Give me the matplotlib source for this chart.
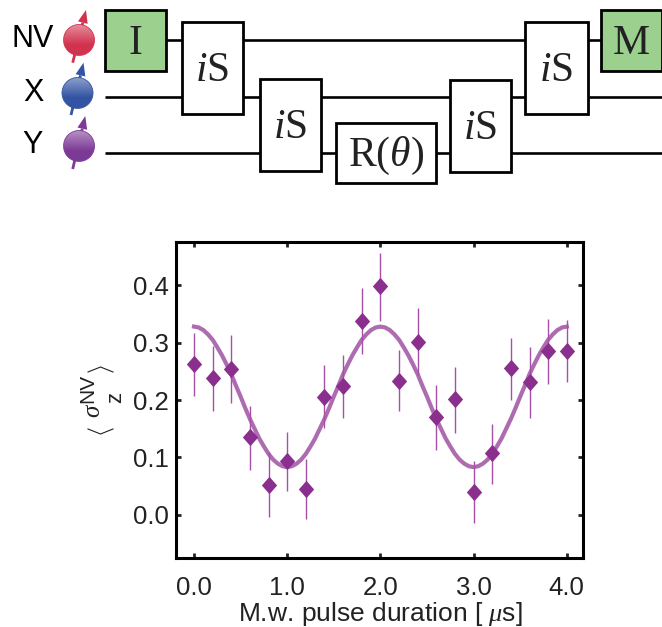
import numpy as np
import matplotlib
matplotlib.use("Agg")
import matplotlib.pyplot as plt
from matplotlib.patches import Rectangle, Circle, Polygon

plt.rcParams['font.family'] = ['Liberation Sans', 'DejaVu Sans']
plt.rcParams['mathtext.fontset'] = 'custom'
plt.rcParams['mathtext.rm'] = 'Liberation Sans'
plt.rcParams['mathtext.it'] = 'Liberation Serif:italic'
plt.rcParams['mathtext.fallback'] = 'stix'

# measured points
pulse = [0.0, 0.2, 0.4, 0.6, 0.8, 1.0, 1.2, 1.4, 1.6, 1.8, 2.0,
         2.2, 2.4, 2.6, 2.8, 3.0, 3.2, 3.4, 3.6, 3.8, 4.0]
sigma = [0.262, 0.238, 0.254, 0.135, 0.052, 0.094, 0.045, 0.206, 0.224, 0.337, 0.398,
         0.234, 0.302, 0.170, 0.201, 0.040, 0.107, 0.255, 0.231, 0.285, 0.285]
err_top = [0.316, 0.294, 0.313, 0.190, 0.110, 0.145, 0.097, 0.261, 0.278, 0.395, 0.457,
           0.287, 0.360, 0.227, 0.258, 0.094, 0.159, 0.308, 0.293, 0.341, 0.339]
err_bottom = [0.207, 0.181, 0.195, 0.078, -0.004, 0.042, -0.008, 0.152, 0.169, 0.280, 0.337,
              0.181, 0.244, 0.112, 0.143, -0.014, 0.054, 0.200, 0.169, 0.228, 0.232]

# fit curve, every 0.05 us
fit_x = [0.0, 0.05, 0.1, 0.15, 0.2, 0.25, 0.3, 0.35, 0.4, 0.45, 0.5, 0.55, 0.6, 0.65, 0.7, 0.75, 0.8, 0.85, 0.9, 0.95,
         1.0, 1.05, 1.1, 1.15, 1.2, 1.25, 1.3, 1.35, 1.4, 1.45, 1.5, 1.55, 1.6, 1.65, 1.7, 1.75, 1.8, 1.85, 1.9, 1.95,
         2.0, 2.05, 2.1, 2.15, 2.2, 2.25, 2.3, 2.35, 2.4, 2.45, 2.5, 2.55, 2.6, 2.65, 2.7, 2.75, 2.8, 2.85, 2.9, 2.95,
         3.0, 3.05, 3.1, 3.15, 3.2, 3.25, 3.3, 3.35, 3.4, 3.45, 3.5, 3.55, 3.6, 3.65, 3.7, 3.75, 3.8, 3.85, 3.9, 3.95, 4.0]
fit_y = [0.328, 0.3265, 0.322, 0.3145, 0.305, 0.292, 0.278, 0.262, 0.245, 0.225, 0.206, 0.186, 0.167, 0.150, 0.133, 0.119, 0.106, 0.096, 0.089, 0.0845,
         0.083, 0.0845, 0.089, 0.096, 0.106, 0.119, 0.133, 0.150, 0.167, 0.186, 0.206, 0.225, 0.245, 0.262, 0.278, 0.292, 0.305, 0.3145, 0.322, 0.3265,
         0.328, 0.3265, 0.322, 0.3145, 0.305, 0.292, 0.278, 0.262, 0.245, 0.225, 0.206, 0.186, 0.167, 0.150, 0.133, 0.119, 0.106, 0.096, 0.089, 0.0845,
         0.083, 0.0845, 0.089, 0.096, 0.106, 0.119, 0.133, 0.150, 0.167, 0.186, 0.206, 0.225, 0.245, 0.262, 0.278, 0.292, 0.305, 0.3145, 0.322, 0.3265, 0.328]

x_ticks = [0, 1, 2, 3, 4]
x_labels = ['0.0', '1.0', '2.0', '3.0', '4.0']
y_ticks = [0.0, 0.1, 0.2, 0.3, 0.4]
y_labels = ['0.0', '0.1', '0.2', '0.3', '0.4']

W, H = 662, 627
fig = plt.figure(figsize=(W / 100, H / 100), dpi=100)

# the plot
ax = fig.add_axes([176 / W, 1 - 558 / H, (583 - 176) / W, (558 - 242) / H])
ax.plot(fit_x, fit_y, color='#ae6cb0', lw=3.0, zorder=2)
low = np.array(sigma) - np.array(err_bottom)
high = np.array(err_top) - np.array(sigma)
ax.errorbar(pulse, sigma, yerr=[low, high], fmt='none', ecolor='#a650a8', elinewidth=1.0, zorder=3)
diamond = [(-0.88, 0), (0, 1), (0.88, 0), (0, -1)]
ax.plot(pulse, sigma, ls='none', marker=diamond, color='#8a2f8e', ms=12.5, mew=0, zorder=4)
ax.set_xlim(-0.193, 4.174)
ax.set_ylim(-0.0755, 0.4755)
ax.set_xticks(x_ticks, x_labels)
ax.set_yticks(y_ticks, y_labels)
ax.tick_params(direction='in', top=True, right=True, length=3.5, width=2.0, labelsize=18.5, colors='#222222')
ax.tick_params(axis='x', pad=13)
ax.tick_params(axis='y', pad=5)
for s in ax.spines.values():
    s.set_linewidth(2.2)
    s.set_color('black')
fig.text(380 / W, 1 - 614 / H, r'M.w. pulse duration [ $\mu$s]', fontsize=19, ha='center', va='center', color='#222222')

# circuit diagram on top, in pixel coordinates
c = fig.add_axes([0, 0, 1, 1], zorder=5)
c.set_xlim(0, W)
c.set_ylim(H, 0)
c.axis('off')
c.patch.set_alpha(0)

# y label built from pieces, the sub and superscript are big and far apart
c.text(92.5, 410, r'$\sigma$', fontsize=18, rotation=90, ha='center', va='center', color='#222222')
c.text(116, 397.5, 'z', fontsize=16, rotation=90, ha='center', va='center', color='#222222')
c.text(87.5, 388.5, 'NV', fontsize=15, rotation=90, ha='center', va='center', color='#222222')
for tip_y, end_y in [(434, 429), (367, 372)]:
    c.plot([88, 100.5, 113], [end_y, tip_y, end_y], color='#222222', lw=0.8)

wires = [(166, 601, 40), (105, 662, 96.7), (105, 662, 152.7)]
for x0, x1, y in wires:
    c.plot([x0, x1], [y, y], color='black', lw=1.9, solid_capstyle='butt', zorder=1)

gates = [
    (105, 10, 166, 71, '#9bd08f', 'I'),
    (182, 22, 243, 114, 'white', r'$\mathit{i}$S'),
    (260, 79, 321, 171, 'white', r'$\mathit{i}$S'),
    (336, 123, 436, 183, 'white', r'R($\theta$)'),
    (450, 80, 511, 172, 'white', r'$\mathit{i}$S'),
    (525, 22, 588, 114, 'white', r'$\mathit{i}$S'),
    (601, 10, 662, 71, '#9bd08f', 'M'),
]
for x0, y0, x1, y1, col, label in gates:
    c.add_patch(Rectangle((x0, y0), x1 - x0, y1 - y0, fc=col, ec='black', lw=2.0, zorder=2, clip_on=False))
    c.text((x0 + x1) / 2, (y0 + y1) / 2 + 3, label, family='Liberation Serif', fontsize=30, color='#222222',
           ha='center', va='center', zorder=3)

names = [('NV', 33, 39), ('X', 33, 93), ('Y', 33, 145)]
for t, x, y in names:
    c.text(x, y, t, fontsize=22, ha='center', va='center', color='black')

# spins: centre, colour, arrow tail and tip
spins = [
    (79, 40, (0.82, 0.20, 0.31), (72.7, 62.7), (86, 10)),
    (77.5, 93, (0.20, 0.33, 0.64), (71, 115), (83.5, 62.7)),
    (79, 146, (0.49, 0.23, 0.59), (72.7, 169), (85.3, 116)),
]
for cx, cy, rgb, tail, tip in spins:
    d = np.array(tip) - np.array(tail)
    d = d / np.hypot(*d)
    n = np.array([-d[1], d[0]])
    base = np.array(tip) - d * 13
    c.plot([tail[0], base[0]], [tail[1], base[1]], color=rgb, lw=2.0, solid_capstyle='butt', zorder=2)
    c.add_patch(Polygon([tip, base + n * 5, base - n * 5], fc=rgb, ec='none', zorder=2))
    r = 15.5
    grad = np.clip(np.linspace(0, 1.5, 64), 0, 1)[:, None, None]
    top_col = 0.55 * np.array(rgb) + 0.45
    img = (1 - grad) * top_col + grad * np.array(rgb)
    im = c.imshow(img, extent=[cx - r, cx + r, cy + r, cy - r], zorder=3, aspect='auto')
    im.set_clip_path(Circle((cx, cy), r, transform=c.transData))
    c.add_patch(Circle((cx, cy), r, fc='none', ec=rgb, lw=0.6, zorder=4))
c.set_xlim(0, W)
c.set_ylim(H, 0)

fig.savefig('out.png', dpi=100)
